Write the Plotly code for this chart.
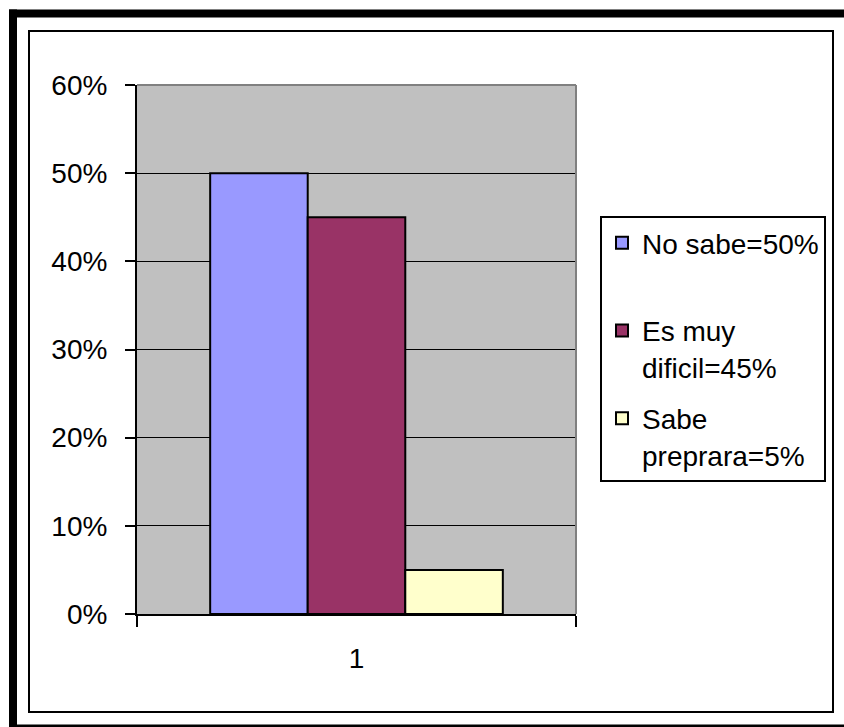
import plotly.graph_objects as go

# Survey results for a single question
categories = ["1"]
series_names = ["No sabe=50%", "Es muy<br>dificil=45%", "Sabe<br>preprara=5%"]
series_values = [[0.50], [0.45], [0.05]]
series_colors = ["#9999FF", "#993366", "#FFFFCC"]

W, H = 844, 727
L, R, T, B = 137, 576, 85, 614  # plot area in pixels


def px_x(x):
    return (x - L) / (R - L)


def px_y(y):
    return (B - y) / (B - T)


def frame_line(x0, y0, x1, y1, width, color="black"):
    return dict(type="line", xref="paper", yref="paper",
                x0=px_x(x0), x1=px_x(x1), y0=px_y(y0), y1=px_y(y1),
                line=dict(color=color, width=width), layer="above")


fig = go.Figure()
for i, (name, vals, col) in enumerate(zip(series_names, series_values, series_colors)):
    # pad the single-line entry so every legend item takes two lines
    label = name if "<br>" in name else name + "<br>&nbsp;"
    fig.add_trace(go.Bar(
        x=categories, y=vals, name=label,
        legendgroup=f"g{i}",
        marker=dict(color=col, line=dict(color="black", width=2)),
    ))

font = dict(family="Liberation Sans, Arial, sans-serif", size=28, color="black")

shapes = [
    # outer heavy frame: left, top and bottom edges
    frame_line(13, 9.5, 13, 727, 8),
    frame_line(9, 13.5, 844, 13.5, 8),
    frame_line(9, 726, 844, 726, 3),
    # inner chart-area frame
    dict(type="rect", xref="paper", yref="paper",
         x0=px_x(29), x1=px_x(833), y0=px_y(31), y1=px_y(712),
         line=dict(color="black", width=2), layer="above"),
    # plot-area border on top and right
    frame_line(L, T, R, T, 2, "#808080"),
    frame_line(R, T, R, B, 2, "#808080"),
]

fig.update_layout(
    width=W, height=H,
    margin=dict(l=L, r=W - R, t=T, b=H - B, pad=0),
    paper_bgcolor="white",
    plot_bgcolor="#C0C0C0",
    barmode="group",
    bargap=1 / 3,
    bargroupgap=0,
    font=font,
    showlegend=True,
    legend=dict(
        xref="container", yref="container",
        x=600 / W, y=1 - 216 / H, xanchor="left", yanchor="top",
        bordercolor="black", borderwidth=2, bgcolor="white",
        valign="top", tracegroupgap=12, traceorder="grouped",
        font=font,
    ),
    shapes=shapes,
)

fig.update_xaxes(
    type="category", showgrid=False, zeroline=False,
    showline=True, linecolor="black", linewidth=2,
    ticks="outside", tickson="boundaries", ticklen=11, tickwidth=2, tickcolor="black",
    ticklabelstandoff=18,
)
fig.update_yaxes(
    range=[0, 0.6], dtick=0.1, tickformat=".0%",
    showgrid=True, gridcolor="black", gridwidth=1, zeroline=False,
    showline=True, linecolor="black", linewidth=2,
    ticks="outside", ticklen=10, tickwidth=2, tickcolor="black",
    ticklabelstandoff=12,
)

fig.write_html("out.html", config={"displayModeBar": False})
